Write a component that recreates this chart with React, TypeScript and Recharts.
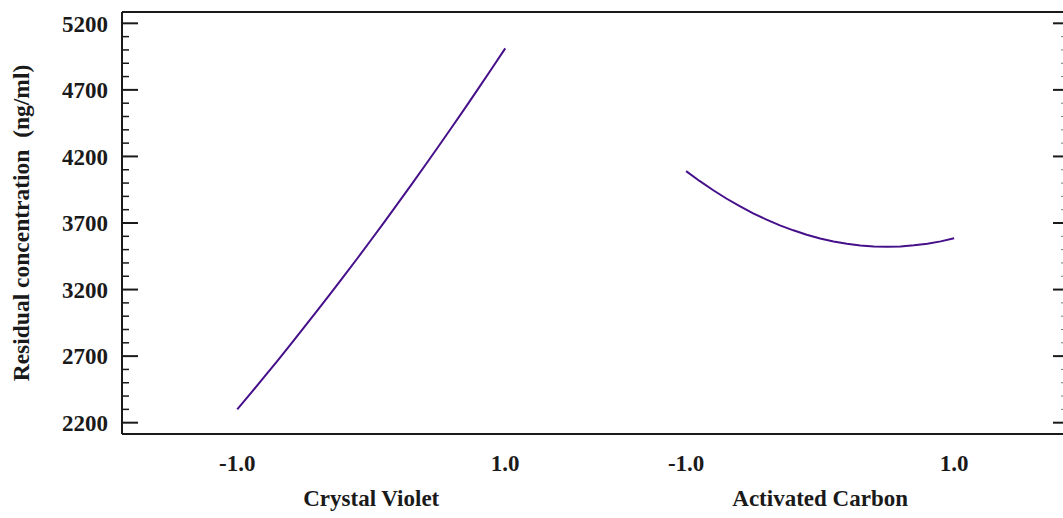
import { LineChart, Line, XAxis, YAxis, ReferenceLine } from 'recharts';

// factor levels (coded units) shared by both panels
const levels = [-1.0, -0.9, -0.8, -0.7, -0.6, -0.5, -0.4, -0.3, -0.2, -0.1, 0, 0.1, 0.2, 0.3, 0.4, 0.5, 0.6, 0.7, 0.8, 0.9, 1.0];

// residual concentration (ng/ml)
const crystalViolet = [2300, 2420, 2542, 2665, 2790, 2917, 3045, 3175, 3306, 3439, 3574, 3710, 3849, 3988, 4130, 4273, 4417, 4563, 4711, 4861, 5012];
const activatedCarbon = [4090, 4016, 3948, 3884, 3826, 3773, 3725, 3682, 3645, 3612, 3584, 3561, 3544, 3531, 3524, 3521, 3524, 3532, 3544, 3562, 3585];

const factorNames = ['Crystal Violet', 'Activated Carbon'];
const yTicks = [2200, 2300, 2400, 2500, 2600, 2700, 2800, 2900, 3000, 3100, 3200, 3300, 3400, 3500, 3600, 3700, 3800, 3900, 4000, 4100, 4200, 4300, 4400, 4500, 4600, 4700, 4800, 4900, 5000, 5100, 5200];

// second panel is shifted along the shared x scale
const OFFSET = 3.35;
const X_DOMAIN = [-1.86, 5.17];
const Y_DOMAIN = [2115, 5285];

const cvData = levels.map((x, i) => ({ x, y: crystalViolet[i] }));
const acData = levels.map((x, i) => ({ x: x + OFFSET, y: activatedCarbon[i] }));

const INK = '#1a1a1a';
const LINE = '#45108a';
const FONT = "'Liberation Serif', 'Times New Roman', serif";
const FS = 23;

const isMajor = (v: number) => (v - 2200) % 500 === 0;

const LeftTick = (props: any) => {
  const { x, y, payload } = props;
  const major = isMajor(payload.value);
  return (
    <g>
      <line x1={x} x2={x + (major ? 16 : 7)} y1={y} y2={y} stroke={INK} strokeWidth={major ? 2 : 1.5} />
      {major && (
        <text x={x - 14} y={y} dy="0.36em" textAnchor="end" fontFamily={FONT} fontWeight="bold" fontSize={FS} fill={INK}>
          {payload.value}
        </text>
      )}
    </g>
  );
};

const RightTick = (props: any) => {
  const { x, y, payload } = props;
  const major = isMajor(payload.value);
  return <line x1={x} x2={x - (major ? 11 : 3)} y1={y} y2={y} stroke={major ? INK : '#777'} strokeWidth={major ? 2 : 1} />;
};

const LevelTick = (props: any) => {
  const { x, y, payload } = props;
  const v = payload.value > 1.5 ? payload.value - OFFSET : payload.value;
  return (
    <text x={x} y={y + 37} textAnchor="middle" fontFamily={FONT} fontWeight="bold" fontSize={FS} fill={INK}>
      {v.toFixed(1)}
    </text>
  );
};

const NameTick = (props: any) => {
  const { x, y, payload } = props;
  const name = payload.value > 1.5 ? factorNames[1] : factorNames[0];
  return (
    <text x={x} y={y + 22} textAnchor="middle" fontFamily={FONT} fontWeight="bold" fontSize={FS} fill={INK}>
      {name}
    </text>
  );
};

const YTitle = (props: any) => {
  const vb = props.viewBox;
  const cy = vb.y + vb.height / 2;
  return (
    <text x={29} y={cy} transform={`rotate(-90, 29, ${cy})`} textAnchor="middle" fontFamily={FONT} fontWeight="bold" fontSize={23.5} fill={INK}>
      {'Residual concentration\u00a0\u00a0(ng/ml)'}
    </text>
  );
};

export default function App() {
  return (
    <div style={{ position: 'absolute', left: 0, top: 0, width: 1063, height: 518, overflow: 'hidden', background: '#fff' }}>
      <LineChart width={1065} height={518} margin={{ top: 12, right: 0, bottom: 0, left: 0 }}>
        <XAxis
          xAxisId="main"
          type="number"
          dataKey="x"
          domain={X_DOMAIN}
          ticks={[-1, 1, -1 + OFFSET, 1 + OFFSET]}
          height={50}
          tickSize={0}
          tickMargin={0}
          tickLine={false}
          axisLine={{ stroke: INK, strokeWidth: 2 }}
          tick={LevelTick}
          interval={0}
        />
        <XAxis
          xAxisId="titles"
          type="number"
          dataKey="x"
          domain={X_DOMAIN}
          ticks={[0, OFFSET]}
          height={34}
          tickSize={0}
          tickMargin={0}
          tickLine={false}
          axisLine={false}
          tick={NameTick}
          interval={0}
        />
        <YAxis
          yAxisId="left"
          type="number"
          domain={Y_DOMAIN}
          ticks={yTicks}
          width={122}
          tickSize={0}
          tickMargin={0}
          tickLine={false}
          axisLine={{ stroke: INK, strokeWidth: 2 }}
          tick={LeftTick}
          interval={0}
          label={{ content: YTitle }}
        />
        <YAxis
          yAxisId="right"
          orientation="right"
          type="number"
          domain={Y_DOMAIN}
          ticks={yTicks}
          width={1}
          tickSize={0}
          tickMargin={0}
          tickLine={false}
          axisLine={{ stroke: INK, strokeWidth: 2 }}
          tick={RightTick}
          interval={0}
        />
        <ReferenceLine xAxisId="main" yAxisId="left" y={Y_DOMAIN[1]} stroke={INK} strokeWidth={2} ifOverflow="visible" />
        <Line xAxisId="main" yAxisId="left" data={cvData} dataKey="y" type="linear" stroke={LINE} strokeWidth={2} dot={false} isAnimationActive={false} />
        <Line xAxisId="titles" yAxisId="right" data={acData} dataKey="y" type="linear" stroke={LINE} strokeWidth={2} dot={false} isAnimationActive={false} />
      </LineChart>
    </div>
  );
}
